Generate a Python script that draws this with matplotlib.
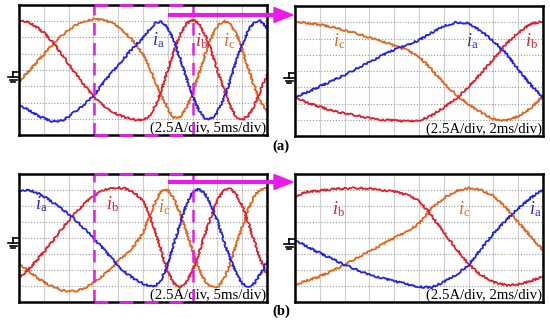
import numpy as np
import matplotlib
matplotlib.use("Agg")
import matplotlib.pyplot as plt
from matplotlib.lines import Line2D
from matplotlib.patches import Polygon

# ---------------- data (current in divisions of 2.5 A, time in divisions) ----------------
t_left = np.linspace(0, 10, 41)    # 5 ms/div
t_right = np.linspace(0, 10, 21)   # 2 ms/div

# (a) 5 ms/div
ia_a_left = [-2.1, -2.35, -2.56, -2.8, -2.97, -3.12, -3.18, -3.1, -2.87, -2.57,
             -2.3, -1.95, -1.6, -1.1, -0.6, -0.15, 0.3, 0.75, 1.2, 1.6,
             1.95, 2.47, 2.9, 3.01, 2.6, 1.79, 0.71, -0.48, -1.59, -2.47,
             -2.97, -3.01, -2.6, -1.79, -0.71, 0.48, 1.59, 2.47, 2.97, 3.01, 2.6]
ib_a_left = [3.08, 3.0, 2.85, 2.6, 2.3, 1.9, 1.45, 0.9, 0.35, -0.15,
             -0.65, -1.15, -1.64, -2.0, -2.3, -2.55, -2.75, -2.9, -3.0, -3.07,
             -3.1, -2.86, -2.19, -1.19, 0.0, 1.19, 2.19, 2.86, 3.1, 2.86,
             2.19, 1.19, 0.0, -1.19, -2.19, -2.86, -3.05, -2.82, -2.15, -1.2, -0.3]
ic_a_left = [-0.72, -0.3, 0.1, 0.55, 0.96, 1.4, 1.8, 2.15, 2.46, 2.72,
             2.9, 3.05, 3.12, 3.1, 3.04, 2.88, 2.67, 2.35, 1.95, 1.5,
             0.95, 0.2, -0.7, -1.6, -2.4, -2.95, -2.88, -2.34, -1.41, -0.25,
             0.96, 2.0, 2.72, 3.03, 2.85, 2.23, 1.25, 0.1, -1.07, -2.0, -2.55]
# (a) 2 ms/div
ia_a_right = [-1.6, -1.3, -0.95, -0.6, -0.25, 0.15, 0.55, 0.95, 1.3, 1.6, 1.9,
              2.35, 2.75, 3.0, 2.95, 2.45, 1.85, 1.1, 0.1, -0.85, -1.6]
ib_a_right = [-1.6, -1.95, -2.2, -2.45, -2.6, -2.75, -2.9, -3.0, -3.05, -3.1, -3.05,
              -2.75, -2.25, -1.7, -0.95, -0.15, 0.75, 1.65, 2.35, 2.9, 3.05]
ic_a_right = [3.05, 2.95, 2.85, 2.7, 2.5, 2.3, 2.05, 1.85, 1.55, 1.3, 0.9,
              0.1, -0.75, -1.45, -2.05, -2.55, -2.95, -3.05, -2.8, -2.3, -1.55]

# (b) 5 ms/div
ia_b_left = [2.97, 3.0, 2.95, 2.8, 2.6, 2.35, 2.08, 1.8, 1.5, 1.15,
             0.78, 0.4, 0.0, -0.42, -0.85, -1.3, -1.75, -2.1, -2.4, -2.65,
             -2.85, -3.02, -3.02, -2.55, -1.6, -0.35, 0.95, 2.1, 2.85, 3.07,
             2.76, 2.06, 1.05, -0.12, -1.26, -2.2, -2.86, -3.05, -2.8, -2.2, -1.5]
ib_b_left = [-2.45, -2.15, -1.77, -1.33, -0.87, -0.39, 0.1, 0.6, 1.08, 1.53,
             1.94, 2.3, 2.61, 2.85, 3.03, 3.13, 3.15, 3.1, 2.95, 2.7,
             2.3, 1.55, 0.4, -0.9, -2.1, -2.85, -3.09, -2.76, -2.03, -0.96,
             0.24, 1.4, 2.35, 2.95, 3.1, 2.76, 2.03, 0.96, -0.24, -1.4, -2.35]
ic_b_left = [-1.56, -1.9, -2.2, -2.5, -2.75, -2.97, -3.13, -3.27, -3.33, -3.33,
             -3.22, -3.05, -2.8, -2.5, -2.2, -1.9, -1.45, -1.1, -0.73, -0.25,
             0.31, 1.3, 2.3, 3.0, 2.99, 2.45, 1.54, 0.39, -0.82, -1.89,
             -2.69, -3.07, -3.1, -2.58, -1.66, -0.5, 0.73, 1.84, 2.65, 3.08, 3.1]
# (b) 2 ms/div
ia_b_right = [-0.1, -0.55, -0.94, -1.3, -1.67, -2.0, -2.3, -2.5, -2.7, -2.88, -3.05,
              -3.1, -2.75, -2.3, -1.67, -0.7, 0.3, 1.1, 1.85, 2.5, 3.05]
ib_b_right = [2.6, 2.9, 2.95, 3.05, 3.1, 3.12, 3.08, 3.0, 2.9, 2.7, 2.35,
              1.4, 0.35, -0.65, -1.65, -2.3, -2.75, -2.95, -2.9, -2.7, -2.4]
ic_b_right = [-2.92, -2.65, -2.4, -2.05, -1.67, -1.25, -0.83, -0.42, 0.0, 0.4, 0.9,
              1.85, 2.5, 2.95, 3.12, 3.0, 2.65, 1.9, 1.0, 0.1, -0.75]

zoom_window = [3.03, 7.0]       # dashed box on the 5 ms/div screens (div)
scale_left = "(2.5A/div, 5ms/div)"
scale_right = "(2.5A/div, 2ms/div)"

# ---------------- style ----------------
plt.rcParams['font.family'] = ['Liberation Serif', 'DejaVu Serif']
plt.rcParams['mathtext.fontset'] = 'custom'
plt.rcParams['mathtext.rm'] = 'Liberation Serif'
plt.rcParams['mathtext.it'] = 'Liberation Serif:italic'

C_A = '#2424e6'
C_B = '#e0202c'
C_C = '#e2661e'
MAG = '#e81ce8'

W, H = 550, 331
fig = plt.figure(figsize=(W / 100, H / 100), dpi=100)
fig.patch.set_facecolor('white')


def rect(x0, y0, x1, y1):
    return [x0 / W, 1 - y1 / H, (x1 - x0) / W, (y1 - y0) / H]


def fx(x):
    return x / W


def fy(y):
    return 1 - y / H


def scope(pos, t, ia, ib, ic, note, labels):
    ax = fig.add_axes(rect(*pos))
    ax.set_xlim(0, 10)
    ax.set_ylim(-4, 4)
    ax.set_xticks([])
    ax.set_yticks([])
    for s in ax.spines.values():
        s.set_linewidth(1.8)
        s.set_color('black')
        s.set_zorder(6)
    for gx in range(1, 10):
        ax.axvline(gx, color='#cdcdcd', lw=0.8, zorder=1)
    for gy in range(-3, 4):
        ax.axhline(gy, color='#969696', lw=0.8, ls=(0, (1, 1.6)), zorder=1)
    ax.text(9.95, -4.0, note, ha='right', va='bottom', fontsize=10.6,
            zorder=2, bbox=dict(facecolor='white', edgecolor='none', pad=0.4))
    for y, c in ((ic, C_C), (ib, C_B), (ia, C_A)):
        ln, = ax.plot(t, y, color=c, lw=1.3, zorder=3, solid_joinstyle='round')
        ln.set_sketch_params(scale=0.9, length=2.5, randomness=6)
    for (lx, ly, sub, c) in labels:
        fig.text(fx(lx), fy(ly), r'$i_{\mathrm{%s}}$' % sub, color=c,
                 fontsize=13, ha='center', va='center')
    return ax


ax_tl = scope((19, 5, 267, 135), t_left, ia_a_left, ib_a_left, ic_a_left, scale_left,
              [(158, 40, 'a', C_A), (201, 41, 'b', C_B), (229, 41, 'c', C_C)])
ax_tr = scope((295, 6, 543, 136), t_right, ia_a_right, ib_a_right, ic_a_right, scale_right,
              [(339, 41, 'c', C_C), (472, 41, 'a', C_A), (531, 41, 'b', C_B)])
ax_bl = scope((19, 174, 267, 302), t_left, ia_b_left, ib_b_left, ic_b_left, scale_left,
              [(41, 204, 'a', C_A), (112, 204, 'b', C_B), (164, 207, 'c', C_C)])
ax_br = scope((295, 174, 543, 302), t_right, ia_b_right, ib_b_right, ic_b_right, scale_right,
              [(338, 209, 'b', C_B), (464, 209, 'c', C_C), (535, 209, 'a', C_A)])

# dashed zoom windows and arrows
for ax, ya in ((ax_tl, 15), (ax_bl, 182)):
    for xv in zoom_window:
        ax.axvline(xv, color=MAG, lw=1.8, ls=(0, (5, 3)), zorder=5)
    for yv in (4, -4):
        ax.plot(zoom_window, [yv, yv], color=MAG, lw=2.0, ls=(0, (5, 4)),
                zorder=7, clip_on=False)
    fig.add_artist(Line2D([fx(168), fx(276)], [fy(ya), fy(ya)], color=MAG, lw=3.0,
                          solid_capstyle='butt'))
    fig.add_artist(Polygon([[fx(274), fy(ya - 7.5)], [fx(274), fy(ya + 7.5)],
                            [fx(293), fy(ya)]], closed=True, color=MAG,
                           transform=fig.transFigure))

# ground markers
for gx, gy in ((12, 77), (288, 78), (12, 243), (288, 244)):
    fig.add_artist(Line2D([fx(gx + 1), fx(gx + 1)], [fy(gy - 5), fy(gy)], color='black', lw=1.2))
    fig.add_artist(Line2D([fx(gx + 1), fx(gx + 7)], [fy(gy - 5), fy(gy - 5)], color='black', lw=1.2))
    for k, hw in enumerate((5.0, 3.5, 2.0)):
        yy = gy + 2.6 * k
        fig.add_artist(Line2D([fx(gx + 1 - hw), fx(gx + 1 + hw)], [fy(yy), fy(yy)],
                              color='black', lw=1.2))

fig.text(fx(281), fy(146), '(a)', fontsize=10.5, fontweight='bold', ha='center', va='center')
fig.text(fx(281), fy(311), '(b)', fontsize=10.5, fontweight='bold', ha='center', va='center')

fig.savefig('out.png', dpi=100, facecolor='white')
